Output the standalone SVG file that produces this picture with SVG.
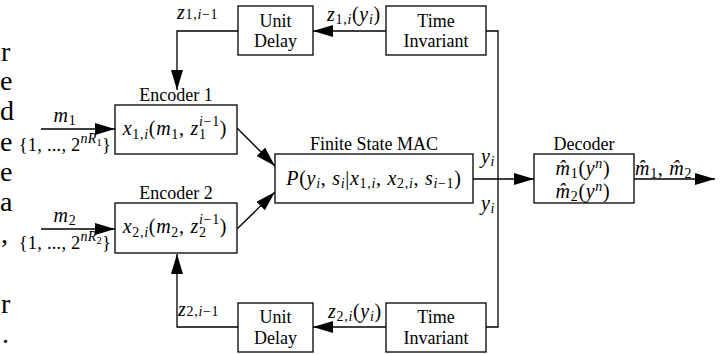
<svg xmlns="http://www.w3.org/2000/svg" width="725" height="354" viewBox="0 0 725 354">
<style>
.box{fill:#fff;stroke:#000;stroke-width:1.3}
.ln{fill:none;stroke:#000;stroke-width:1.3}
.t{font-family:"Liberation Serif","Times New Roman",serif;font-size:18px;fill:#000}
.m{font-family:"Liberation Serif","Times New Roman",serif;font-size:20px;letter-spacing:0.7px;fill:#000}
.set{font-family:"Liberation Serif","Times New Roman",serif;font-size:18.5px;letter-spacing:0.2px;fill:#000}
.c{text-anchor:middle}
.e{text-anchor:end}
.i{font-style:italic}
.s{font-size:14px}
.ss{font-size:10.5px}
.p{font-family:"Liberation Serif","Times New Roman",serif;font-size:28px;fill:#000}
</style>
<defs>
<marker id="ah" viewBox="0 0 20 12" refX="20" refY="6" markerWidth="20" markerHeight="12" orient="auto" markerUnits="userSpaceOnUse"><path d="M0,0 L20,6 L0,12 z" fill="#000"/></marker>
</defs>
<rect width="725" height="354" fill="#fff"/>

<g id="margin-text">
<text class="p" x="1" y="61">r</text>
<text class="p" x="0" y="90">e</text>
<text class="p" x="0" y="120">d</text>
<text class="p" x="0" y="151">e</text>
<text class="p" x="0" y="181">e</text>
<text class="p" x="0" y="211">a</text>
<text class="p" x="1" y="243">,</text>
<text class="p" x="1" y="313">r</text>
<text class="p" x="2" y="343">.</text>
</g>

<g id="connectors">
<path class="ln" d="M386,31 H313" marker-end="url(#ah)"/>
<path class="ln" d="M238,31 H177 V90" marker-end="url(#ah)"/>
<path class="ln" d="M386,327 H313" marker-end="url(#ah)"/>
<path class="ln" d="M238,327 H177 V254" marker-end="url(#ah)"/>
<path class="ln" d="M486,31 H498 V327 H486"/>
<path class="ln" d="M473,179 H534" marker-end="url(#ah)"/>
<path class="ln" d="M634,179 H715" marker-end="url(#ah)"/>
<path class="ln" d="M237,128 L275,166" marker-end="url(#ah)"/>
<path class="ln" d="M237,229 L275,192" marker-end="url(#ah)"/>
<path class="ln" d="M41,129 H115" marker-end="url(#ah)"/>
<path class="ln" d="M41,229 H115" marker-end="url(#ah)"/>
</g>

<g id="labels">
<text class="m" x="177" y="19"><tspan class="i">z</tspan><tspan class="s">1,</tspan><tspan class="s i">i</tspan><tspan class="s">−1</tspan></text>
<text class="m" x="327" y="21"><tspan class="i">z</tspan><tspan class="s" dy="3">1,</tspan><tspan class="s i">i</tspan><tspan dy="-3">(</tspan><tspan class="i">y</tspan><tspan class="s i" dy="3">i</tspan><tspan dy="-3">)</tspan></text>
<text class="m" x="178" y="316"><tspan class="i">z</tspan><tspan class="s">2,</tspan><tspan class="s i">i</tspan><tspan class="s">−1</tspan></text>
<text class="m" x="328" y="318"><tspan class="i">z</tspan><tspan class="s" dy="3">2,</tspan><tspan class="s i">i</tspan><tspan dy="-3">(</tspan><tspan class="i">y</tspan><tspan class="s i" dy="3">i</tspan><tspan dy="-3">)</tspan></text>
<text class="m" x="481" y="163"><tspan class="i">y</tspan><tspan class="s i" dy="3">i</tspan></text>
<text class="m" x="481" y="210"><tspan class="i">y</tspan><tspan class="s i" dy="3">i</tspan></text>
<text class="m" x="635" y="175"><tspan class="i">m&#x302;</tspan><tspan class="s" dy="3">1</tspan><tspan dy="-3">, </tspan><tspan class="i">m&#x302;</tspan><tspan class="s" dy="3">2</tspan></text>
<text class="m c" x="65" y="122"><tspan class="i">m</tspan><tspan class="s" dy="3">1</tspan></text>
<text class="m c" x="65" y="222"><tspan class="i">m</tspan><tspan class="s" dy="3">2</tspan></text>
<text class="set e" x="111" y="151">{1, ..., 2<tspan class="s i" dy="-8">nR</tspan><tspan class="ss" dy="3">1</tspan><tspan dy="5">}</tspan></text>
<text class="set e" x="111" y="249">{1, ..., 2<tspan class="s i" dy="-8">nR</tspan><tspan class="ss" dy="3">2</tspan><tspan dy="5">}</tspan></text>
</g>

<g id="unit-delay-1">
<rect class="box" x="238" y="6" width="75" height="49"/>
<text class="t c" x="275.5" y="27">Unit</text>
<text class="t c" x="275.5" y="47">Delay</text>
</g>
<g id="time-invariant-1">
<rect class="box" x="386" y="6" width="100" height="49"/>
<text class="t c" x="436" y="27">Time</text>
<text class="t c" x="436" y="47">Invariant</text>
</g>
<g id="unit-delay-2">
<rect class="box" x="238" y="303" width="75" height="49"/>
<text class="t c" x="275.5" y="323">Unit</text>
<text class="t c" x="275.5" y="344">Delay</text>
</g>
<g id="time-invariant-2">
<rect class="box" x="386" y="303" width="100" height="49"/>
<text class="t c" x="436" y="323">Time</text>
<text class="t c" x="436" y="344">Invariant</text>
</g>

<g id="encoder-1">
<text class="t c" x="176" y="101">Encoder 1</text>
<rect class="box" x="115" y="105" width="122" height="49"/>
<text class="m c" x="175" y="135"><tspan class="i">x</tspan><tspan class="s" dy="4">1,</tspan><tspan class="s i">i</tspan><tspan dy="-4">(</tspan><tspan class="i">m</tspan><tspan class="s" dy="4">1</tspan><tspan dy="-4">, </tspan><tspan class="i">z</tspan><tspan class="s" dy="4">1</tspan><tspan class="s i" dx="-7.7" dy="-13">i</tspan><tspan class="s">−1</tspan><tspan dy="9">)</tspan></text>
</g>
<g id="encoder-2">
<text class="t c" x="176" y="199">Encoder 2</text>
<rect class="box" x="115" y="203" width="122" height="50"/>
<text class="m c" x="175" y="233"><tspan class="i">x</tspan><tspan class="s" dy="4">2,</tspan><tspan class="s i">i</tspan><tspan dy="-4">(</tspan><tspan class="i">m</tspan><tspan class="s" dy="4">2</tspan><tspan dy="-4">, </tspan><tspan class="i">z</tspan><tspan class="s" dy="4">2</tspan><tspan class="s i" dx="-7.7" dy="-13">i</tspan><tspan class="s">−1</tspan><tspan dy="9">)</tspan></text>
</g>

<g id="mac">
<text class="t c" x="374" y="150">Finite State MAC</text>
<rect class="box" x="275" y="154" width="198" height="49"/>
<text class="m c" x="374" y="185"><tspan class="i">P</tspan>(<tspan class="i">y</tspan><tspan class="s i" dy="3">i</tspan><tspan dy="-3">, </tspan><tspan class="i">s</tspan><tspan class="s i" dy="3">i</tspan><tspan dy="-3">|</tspan><tspan class="i">x</tspan><tspan class="s" dy="3">1,</tspan><tspan class="s i">i</tspan><tspan dy="-3">, </tspan><tspan class="i">x</tspan><tspan class="s" dy="3">2,</tspan><tspan class="s i">i</tspan><tspan dy="-3">, </tspan><tspan class="i">s</tspan><tspan class="s i" dy="3">i</tspan><tspan class="s">−1</tspan><tspan dy="-3">)</tspan></text>
</g>

<g id="decoder">
<text class="t c" x="584" y="150">Decoder</text>
<rect class="box" x="534" y="154" width="100" height="49"/>
<text class="m c" x="583" y="175"><tspan class="i">m&#x302;</tspan><tspan class="s" dy="3">1</tspan><tspan dy="-3">(</tspan><tspan class="i">y</tspan><tspan class="s i" dy="-7">n</tspan><tspan dy="7">)</tspan></text>
<text class="m c" x="583" y="198"><tspan class="i">m&#x302;</tspan><tspan class="s" dy="3">2</tspan><tspan dy="-3">(</tspan><tspan class="i">y</tspan><tspan class="s i" dy="-7">n</tspan><tspan dy="7">)</tspan></text>
</g>
</svg>
